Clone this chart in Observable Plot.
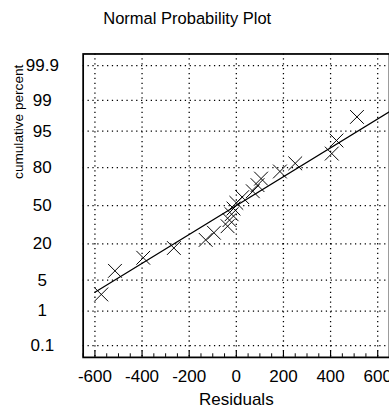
<!DOCTYPE html>
<html><head><meta charset="utf-8">
<script src="https://cdn.jsdelivr.net/npm/d3@7"></script>
<script src="https://cdn.jsdelivr.net/npm/@observablehq/plot@0.6"></script>
<style>
html,body{margin:0;padding:0;background:#fff;overflow:hidden;width:389px;height:417px}
</style></head><body><div id="chart"></div>
<script>
// data
const residuals = [-573,-515,-395,-265,-130,-95,-37,-29,-20,-12,0,25,70,90,105,185,250,405,425,512];
const cumPercent = [2.5,7.5,12.5,17.5,22.5,27.5,32.5,37.5,42.5,47.5,52.5,57.5,62.5,67.5,72.5,77.5,82.5,87.5,92.5,97.5];
const percentTicks = [0.1,1,5,20,50,80,95,99,99.9];
const percentTickLabels = ["0.1","1","5","20","50","80","95","99","99.9"];
const xTicks = [-600,-400,-200,0,200,400,600];
const xMinorTicks = [-650,-550,-500,-450,-350,-300,-250,-150,-100,-50,50,100,150,250,300,350,450,500,550,650];
const fitX = [-600, 650];
const fitPercent = [2.8, 98.1];
const titleText = "Normal Probability Plot";
const xLabel = "Residuals";
const yLabel = "cumulative percent";

// inverse normal CDF (Acklam)
function probit(p){
  const a=[-3.969683028665376e+01,2.209460984245205e+02,-2.759285104469687e+02,1.383577518672690e+02,-3.066479806614716e+01,2.506628277459239e+00];
  const b=[-5.447609879822406e+01,1.615858368580409e+02,-1.556989798598866e+02,6.680131188771972e+01,-1.328068155288572e+01];
  const c=[-7.784894002430293e-03,-3.223964580411365e-01,-2.400758277161838e+00,-2.549732539343734e+00,4.374664141464968e+00,2.938163982698783e+00];
  const d=[7.784695709041462e-03,3.224671290700398e-01,2.445134137142996e+00,3.754408661907416e+00];
  const pl=0.02425, ph=1-pl; let q,r;
  if(p<pl){q=Math.sqrt(-2*Math.log(p));return (((((c[0]*q+c[1])*q+c[2])*q+c[3])*q+c[4])*q+c[5])/((((d[0]*q+d[1])*q+d[2])*q+d[3])*q+1);}
  if(p<=ph){q=p-0.5;r=q*q;return (((((a[0]*r+a[1])*r+a[2])*r+a[3])*r+a[4])*r+a[5])*q/(((((b[0]*r+b[1])*r+b[2])*r+b[3])*r+b[4])*r+1);}
  q=Math.sqrt(-2*Math.log(1-p));return -(((((c[0]*q+c[1])*q+c[2])*q+c[3])*q+c[4])*q+c[5])/((((d[0]*q+d[1])*q+d[2])*q+d[3])*q+1);
}
const z = p => probit(p/100);

const points = residuals.map((r,i)=>({x:r, y:z(cumPercent[i])}));
const fit = fitX.map((x,i)=>({x, y:z(fitPercent[i])}));
const yTicks = percentTicks.map(z);
const zMax = 3.35;
const dotted = {stroke:"black", strokeOpacity:1, strokeWidth:1.3, strokeDasharray:"1.3,3.7"};

const chart = Plot.plot({
  width: 400, height: 417,
  marginLeft: 85, marginRight: 0, marginTop: 55, marginBottom: 50,
  style: {fontFamily: "'Liberation Sans', Arial, sans-serif", fontSize: "17px", background: "white", color: "black", overflow: "visible"},
  x: {domain: [-650, 650]},
  y: {domain: [-zMax, zMax]},
  marks: [
    Plot.gridX(xTicks, dotted),
    Plot.gridY(yTicks, dotted),
    Plot.ruleX(xMinorTicks, {y1: -zMax, y2: -zMax + 0.08, stroke: "black", strokeWidth: 1}),
    Plot.ruleX(xTicks, {y1: -zMax, y2: -zMax + 0.14, stroke: "black", strokeWidth: 1.2}),
    Plot.axisX(xTicks, {tickSize: 0, tickPadding: 13, fontSize: 17.5, tickFormat: d => String(d), label: xLabel, labelAnchor: "center", labelArrow: "none", labelOffset: 49}),
    Plot.axisY(yTicks, {tickSize: 0, tickPadding: 42, textAnchor: "middle", fontSize: 17.5, tickFormat: (d,i) => percentTickLabels[i], label: null}),
    Plot.frame({stroke: "black", strokeWidth: 1.8}),
    Plot.line(fit, {x: "x", y: "y", stroke: "black", strokeWidth: 1.3, clip: true}),
    Plot.dot(points, {x: "x", y: "y", symbol: "times", r: 6.5, stroke: "black", strokeWidth: 1}),
    Plot.text([yLabel], {frameAnchor: "top-left", rotate: -90, textAnchor: "end", lineAnchor: "middle", dx: -66, dy: 11, fontSize: 14}),
    Plot.text([titleText], {frameAnchor: "top-left", textAnchor: "middle", lineAnchor: "middle", dx: 107, dy: -36, fontSize: 17})
  ]
});
document.getElementById("chart").appendChild(chart);
</script></body></html>
